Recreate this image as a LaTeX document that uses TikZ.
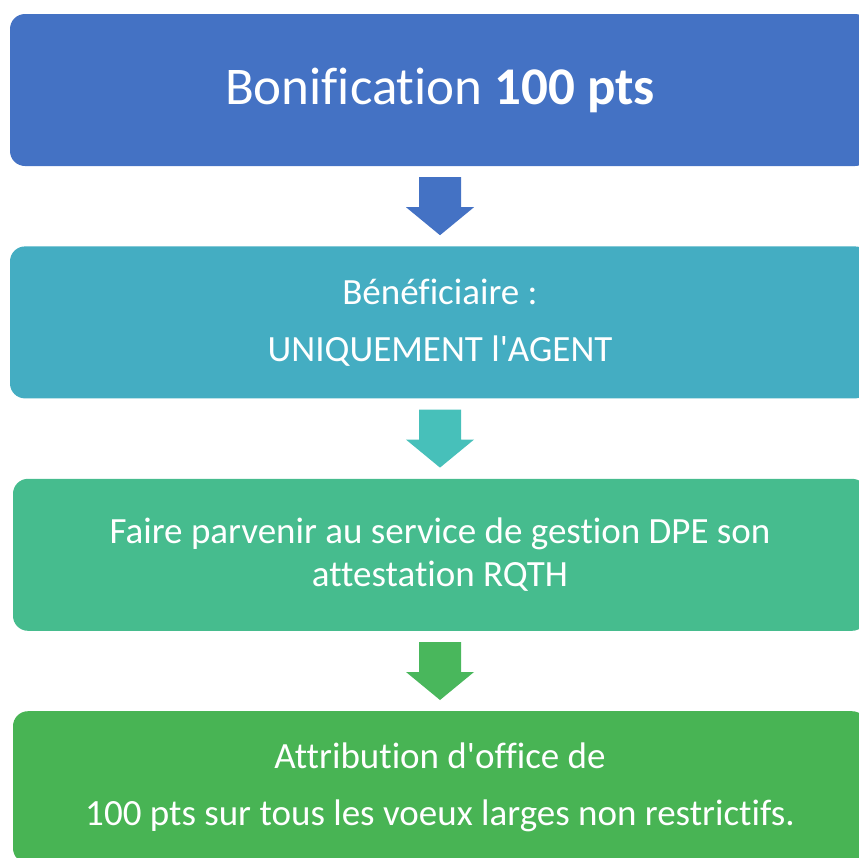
\documentclass[tikz,border=0pt]{standalone}
\usepackage{fontspec}
\setmainfont{Carlito}[Ligatures={NoCommon,TeXOff}]
\usetikzlibrary{positioning,calc}
\definecolor{blueA}{HTML}{4472C4}
\definecolor{tealB}{HTML}{44ADC2}
\definecolor{tealArr}{HTML}{47C0BA}
\definecolor{greenC}{HTML}{46BC8E}
\definecolor{greenD}{HTML}{48B454}
\definecolor{greenArr}{HTML}{49B75C}
\tikzset{
	flowbox/.style = {rectangle, rounded corners=15pt, align=center, text=white,
		inner sep=0pt, minimum height=152pt,
		font=\fontsize{37}{43}\selectfont},
	box_a/.style = {flowbox, fill=blueA, minimum width=860pt,
		font=\fontsize{53}{60}\selectfont},
	box_b/.style = {flowbox, fill=tealB, minimum width=860pt},
	box_c/.style = {flowbox, fill=greenC, minimum width=854pt},
	box_d/.style = {flowbox, fill=greenD, minimum width=854pt}
}
% block arrow from one box down to the next
\newcommand{\flowarrow}[3]{%
	\fill[#3] let \p1=(#1.south), \p2=(#2.north) in
	(\x1-21pt,\y1-11pt) -- (\x1+21pt,\y1-11pt) -- (\x1+21pt,\y2+39pt)
	-- (\x1+34pt,\y2+39pt) -- (\x1,\y2+11pt) -- (\x1-34pt,\y2+39pt)
	-- (\x1-21pt,\y2+39pt) -- cycle;}

\begin{document}
\begin{tikzpicture}[x=1pt,y=-1pt,node distance=80pt]
\useasboundingbox (0,0) rectangle (859,857);
\clip (0,0) rectangle (859,857);
\node [box_a] (bonif) at (440,90) {Bonification \textbf{100 pts}};
\node [box_b, below=of bonif] (benef) {B\'en\'eficiaire :\\[14pt] UNIQUEMENT l'AGENT};
\node [box_c, below=of benef] (rqth) {Faire parvenir au service de gestion DPE son\\ attestation RQTH};
\node [box_d, below=of rqth] (attrib) {Attribution d'office de\\[14pt] 100 pts sur tous les voeux larges non restrictifs.};
\flowarrow{bonif}{benef}{blueA}
\flowarrow{benef}{rqth}{tealArr}
\flowarrow{rqth}{attrib}{greenArr}
\end{tikzpicture}
\end{document}
